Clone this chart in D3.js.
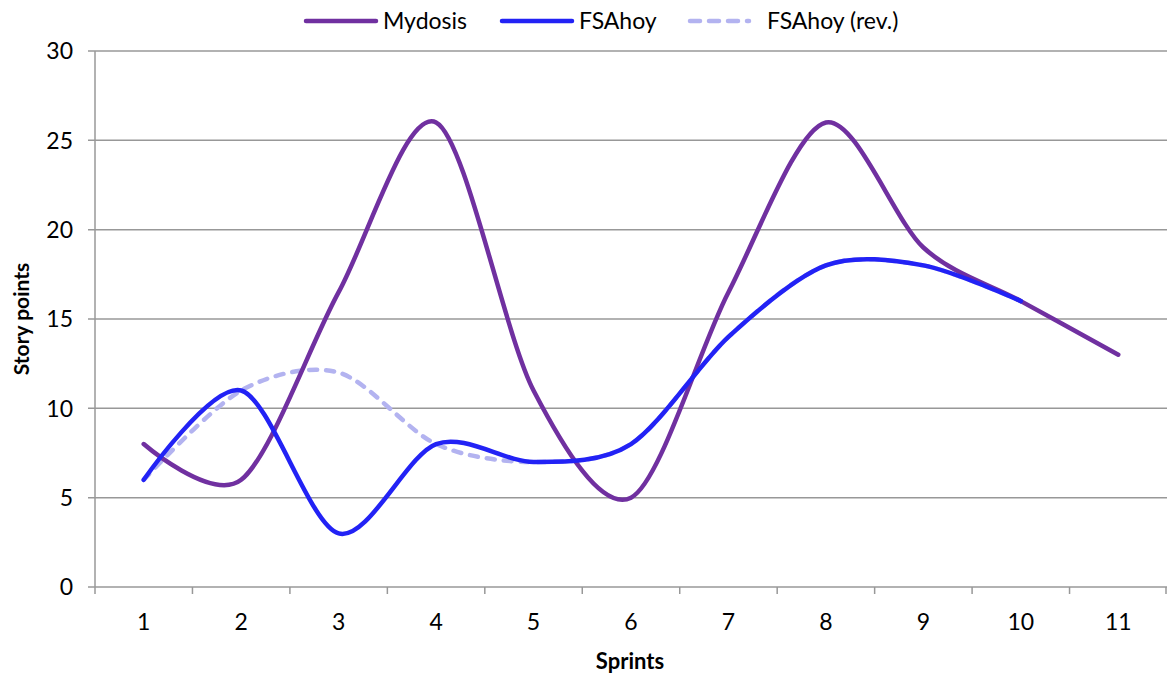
<!DOCTYPE html>
<html>
<head>
<meta charset="utf-8">
<script src="https://cdn.jsdelivr.net/npm/d3@7"></script>
<style>
  body { margin: 0; background: #fff; }
  svg text { font-family: Lato, "Open Sans", sans-serif; fill: #000; }
</style>
</head>
<body>
<div id="chart"></div>
<script>
// sprint numbers on the x axis
var sprints = [1, 2, 3, 4, 5, 6, 7, 8, 9, 10, 11]
var yTicks = [0, 5, 10, 15, 20, 25, 30]

// story points per sprint (null = no value)
var mydosis = [8, 6, 16.5, 26, 11, 5, 16.5, 26, 19, 16, 13]
var fsahoy = [6, 11, 3, 8, 7, 8, 14, 18, 18, 16, null]
var fsahoyRev = [6, 11, 12, 8, 7, 8, 14, 18, 18, 16, null]

var series = [
  { name: "FSAhoy (rev.)", values: fsahoyRev, color: "#b3b3f0", dash: "8,9" },
  { name: "Mydosis", values: mydosis, color: "#7030a0", dash: null },
  { name: "FSAhoy", values: fsahoy, color: "#2222f5", dash: null }
]
var legendOrder = ["Mydosis", "FSAhoy", "FSAhoy (rev.)"]

var width = 1167, height = 674
var margin = { top: 51, right: 0, bottom: 87, left: 95 }
var fontSize = "23px"

var svg = d3.select("#chart").append("svg")
    .attr("width", width)
    .attr("height", height)

var x = d3.scaleBand()
    .domain(sprints)
    .range([margin.left, width - margin.right])

var y = d3.scaleLinear()
    .domain([0, 30])
    .range([height - margin.bottom, margin.top])

// gridlines
svg.append("g")
    .selectAll("line")
    .data(yTicks)
    .join("line")
    .attr("x1", margin.left - 7)
    .attr("x2", width)
    .attr("y1", d => y(d))
    .attr("y2", d => y(d))
    .attr("stroke", "#989898")
    .attr("stroke-width", 1.5)

// y axis line
svg.append("line")
    .attr("x1", margin.left).attr("x2", margin.left)
    .attr("y1", y(30)).attr("y2", y(0))
    .attr("stroke", "#989898")
    .attr("stroke-width", 1.5)

// y tick labels
svg.append("g")
    .selectAll("text")
    .data(yTicks)
    .join("text")
    .attr("x", margin.left - 22)
    .attr("y", d => y(d))
    .attr("dy", "0.36em")
    .attr("text-anchor", "end")
    .style("font-size", fontSize)
    .text(d => d)

// x tick marks at band edges
var edges = sprints.map(d => x(d)).concat([width - 1])
svg.append("g")
    .selectAll("line")
    .data(edges)
    .join("line")
    .attr("x1", d => d).attr("x2", d => d)
    .attr("y1", y(0)).attr("y2", y(0) + 7)
    .attr("stroke", "#989898")
    .attr("stroke-width", 1.5)

// x tick labels
svg.append("g")
    .selectAll("text")
    .data(sprints)
    .join("text")
    .attr("x", d => x(d) + x.bandwidth() / 2)
    .attr("y", 630)
    .attr("text-anchor", "middle")
    .style("font-size", fontSize)
    .text(d => d)

// axis titles
svg.append("text")
    .attr("x", 630)
    .attr("y", 669)
    .attr("text-anchor", "middle")
    .style("font-size", "22px")
    .style("font-weight", "bold")
    .text("Sprints")

svg.append("text")
    .attr("transform", "translate(29," + y(15) + ") rotate(-90)")
    .attr("text-anchor", "middle")
    .style("font-size", "21px")
    .style("font-weight", "bold")
    .text("Story points")

// lines
var line = d3.line()
    .defined(d => d.v != null)
    .x(d => x(d.s) + x.bandwidth() / 2)
    .y(d => y(d.v))
    .curve(d3.curveCardinal.tension(0.1))

svg.append("g")
    .selectAll("path")
    .data(series)
    .join("path")
    .attr("d", d => line(sprints.map((s, i) => ({ s: s, v: d.values[i] }))))
    .attr("fill", "none")
    .attr("stroke", d => d.color)
    .attr("stroke-width", 4.5)
    .attr("stroke-linecap", "round")
    .attr("stroke-dasharray", d => d.dash)

// legend
var legendX = { "Mydosis": 306, "FSAhoy": 502, "FSAhoy (rev.)": 690 }
var legend = svg.append("g")
    .selectAll("g")
    .data(legendOrder.map(n => series.find(s => s.name == n)))
    .join("g")
    .attr("transform", d => "translate(" + legendX[d.name] + ",21)")

legend.append("line")
    .attr("x1", 0).attr("x2", d => d.dash ? 59 : 70)
    .attr("y1", 0).attr("y2", 0)
    .attr("stroke", d => d.color)
    .attr("stroke-width", 4.5)
    .attr("stroke-linecap", "round")
    .attr("stroke-dasharray", d => d.dash ? "10,9" : null)

legend.append("text")
    .attr("x", d => d.dash ? 77 : 77)
    .attr("y", 0)
    .attr("dy", "0.36em")
    .style("font-size", fontSize)
    .text(d => d.name)
</script>
</body>
</html>
